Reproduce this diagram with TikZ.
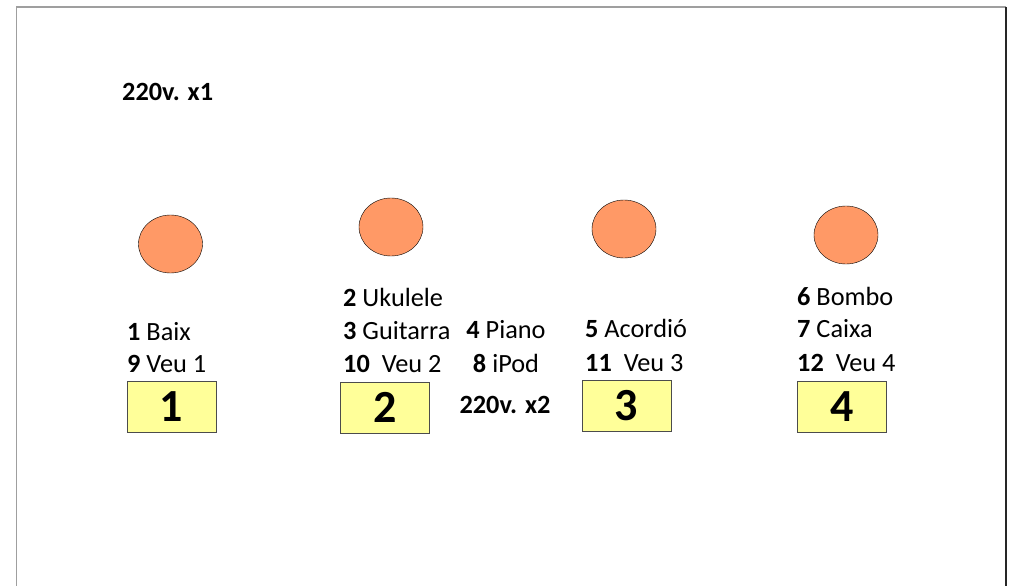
\documentclass[tikz,border=0pt]{standalone}
\usepackage{fontspec}
\setmainfont{Carlito}
\usetikzlibrary{shapes.geometric}

\definecolor{spot}{HTML}{FF9966}
\definecolor{pad}{HTML}{FFFF99}

\begin{document}
\begin{tikzpicture}[x=1pt,y=-1pt]

      \useasboundingbox (0,0) rectangle (1010,586);

      % frame
      \coordinate (ftl) at (16.5,7);
      \coordinate (ftr) at (1006,7);
      \coordinate (fbl) at (16.5,600);
      \coordinate (fbr) at (1006,600);
      \draw[gray!75,line width=1.6pt] (fbl) -- (ftl) -- (ftr);
      \draw[black!85,line width=1.6pt] (ftr) -- (fbr);

      \begin{scope}[every node/.style={ellipse,draw,fill=spot,minimum width=64,minimum height=58,inner sep=0}]
        \node (c1) at (170.5,244) {};
        \node (c2) at (391,227)   {};
        \node (c3) at (624,229)   {};
        \node (c4) at (846,235)   {};
      \end{scope}

      \begin{scope}[every node/.style={rectangle,draw=black!70,fill=pad,minimum width=89,minimum height=51,inner sep=0,font=\fontsize{46}{52}\selectfont\bfseries}]
        \node (b1) at (171.5,406.5) {1};
        \node (b2) at (385,407.5)   {2};
        \node (b3) at (626.5,405.5) {3};
        \node (b4) at (842,406.5)   {4};
      \end{scope}

      \begin{scope}[every node/.style={anchor=base west,inner sep=0,font=\fontsize{26.3}{30}\selectfont}]
        \node (p1) at (122,100) {\textbf{220v. x1}};

        \node (l1a) at (127,340)   {\textbf{1} Baix};
        \node (l1b) at (127,372.5) {\textbf{9} Veu 1};

        \node (l2a) at (343,306)   {\textbf{2} Ukulele};
        \node (l2b) at (343,339.5) {\textbf{3} Guitarra};
        \node (l2c) at (343,372.5) {\textbf{10}\ \ Veu 2};

        \node (l3a) at (585,337)   {\textbf{5} Acordió};
        \node (l3b) at (585,371)   {\textbf{11}\ \ Veu 3};

        \node (l4a) at (797,305)   {\textbf{6} Bombo};
        \node (l4b) at (797,337)   {\textbf{7} Caixa};
        \node (l4c) at (797,371)   {\textbf{12}\ \ Veu 4};
      \end{scope}

      \begin{scope}[every node/.style={anchor=base,inner sep=0,font=\fontsize{26.3}{30}\selectfont}]
        \node (m1) at (506,338) {\textbf{4} Piano};
        \node (m2) at (506,372) {\textbf{8} iPod};
        \node (p2) at (505,413) {\textbf{220v. x2}};
      \end{scope}

    \end{tikzpicture}
\end{document}
